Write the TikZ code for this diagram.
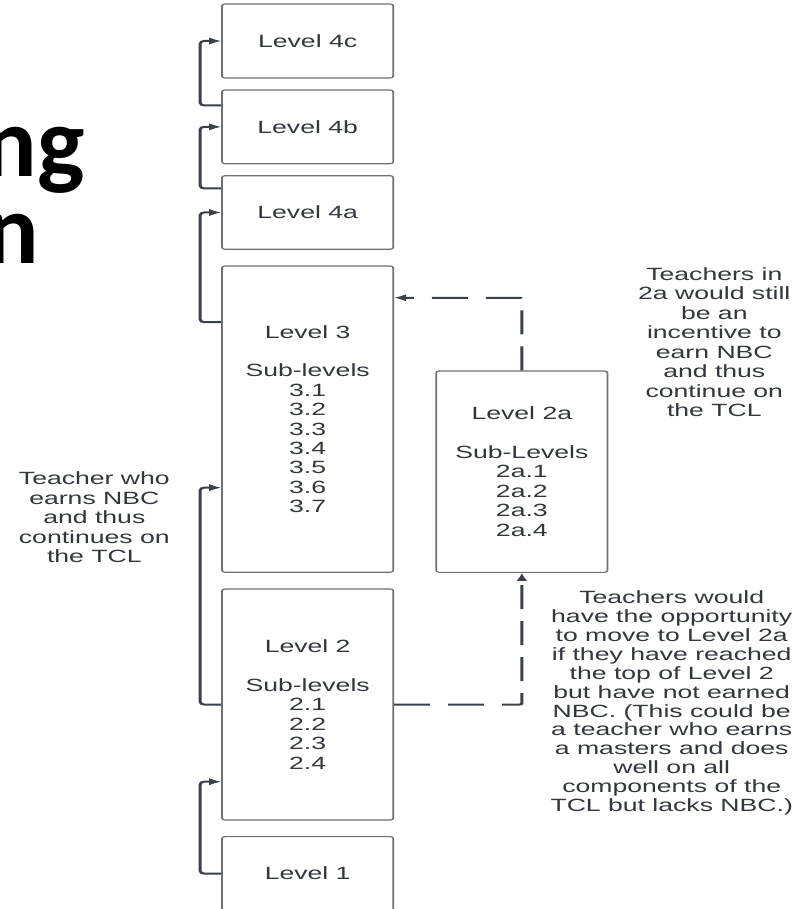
\documentclass[tikz,border=0pt]{standalone}
\usepackage{fontspec}
\setmainfont{Liberation Sans}
\newfontfamily\titlefont{Carlito}
\usetikzlibrary{arrows.meta,calc}
\definecolor{linec}{RGB}{58,65,74}
\definecolor{boxc}{RGB}{112,112,112}
\definecolor{txtc}{RGB}{50,55,62}
\begin{document}
\begin{tikzpicture}[x=0.75pt,y=-0.75pt,
  lvl/.style={draw=boxc, line width=0.85pt, rounded corners=1.5pt, fill=white,
    text=txtc, align=center, inner sep=0pt, minimum width=85.65pt,
    font=\fontsize{13.3pt}{14.55pt}\selectfont},
  note/.style={text=txtc, align=center, inner sep=0pt,
    font=\fontsize{13.3pt}{14.6pt}\selectfont},
  conn/.style={draw=linec, line width=1.5pt, rounded corners=2pt,
    -{Latex[length=6pt,width=5.5pt]}},
  dconn/.style={conn, rounded corners=1pt, dash pattern=on 18pt off 9pt},
  titlest/.style={inner sep=0pt, anchor=base east,
    font=\titlefont\bfseries\fontsize{75pt}{64pt}\selectfont}]
\fill[white] (0,0) rectangle (802,909);
\useasboundingbox (0,0) rectangle (802,909);

\node[titlest] (t1) at (85,177) {ng};
\node[titlest] (t2) at (39,263) {n};

\begin{scope}[transform canvas={xscale=1.5}]
\node[lvl, minimum height=55.5pt] (b4c) at (205.1,41) {Level 4c};
\node[lvl, minimum height=55.3pt] (b4b) at (205.1,126.85) {Level 4b};
\node[lvl, minimum height=55.2pt] (b4a) at (205.1,212.5) {Level 4a};
\node[lvl, minimum height=229.7pt] (b3) at (205.1,419.15)
  {Level 3\\[14.55pt]Sub-levels\\3.1\\3.2\\3.3\\3.4\\3.5\\3.6\\3.7};
\node[lvl, minimum height=173.25pt] (b2) at (205.1,704.5)
  {Level 2\\[14.55pt]Sub-levels\\2.1\\2.2\\2.3\\2.4};
\node[lvl, minimum height=55.5pt] (b1) at (205.1,873.6) {Level 1};
\node[lvl, minimum height=151pt] (b2a) at (347.9,471.65)
  {Level 2a\\[14.55pt]Sub-Levels\\2a.1\\2a.2\\2a.3\\2a.4};

\draw[conn] ($(b4b.north west)+(0,16)$) -- ++(-14,0) |- (b4c.west);
\draw[conn] ($(b4a.north west)+(0,13.3)$) -- ++(-14,0) |- (b4b.west);
\draw[conn] ($(b3.north west)+(0,56.7)$) -- ++(-14,0) |- (b4a.west);
\draw[conn] (b2.west) -- ++(-14,0) |- ($(b3.west)+(0,68.5)$);
\draw[conn] (b1.west) -- ++(-14,0) |- ($(b2.west)+(0,77.2)$);

\draw[dconn] (b2.east) -| (b2a.south);
\draw[dconn] (b2a.north) |- ($(b3.north east)+(0,32.3)$);

\node[note] (n1) at (476.2,342.2)
  {Teachers in\\2a would still\\be an\\incentive to\\earn NBC\\and thus\\continue on\\the TCL};
\node[note, font=\fontsize{13.3pt}{14.14pt}\selectfont] (n2) at (447.8,703)
  {Teachers would\\have the opportunity\\to move to Level 2a\\if they have reached\\the top of Level 2\\but have not earned\\NBC. (This could be\\a teacher who earns\\a masters and does\\well on all\\components of the\\TCL but lacks NBC.)};
\node[note] (n3) at (62.9,517.5)
  {Teacher who\\earns NBC\\and thus\\continues on\\the TCL};
\end{scope}
\end{tikzpicture}
\end{document}
